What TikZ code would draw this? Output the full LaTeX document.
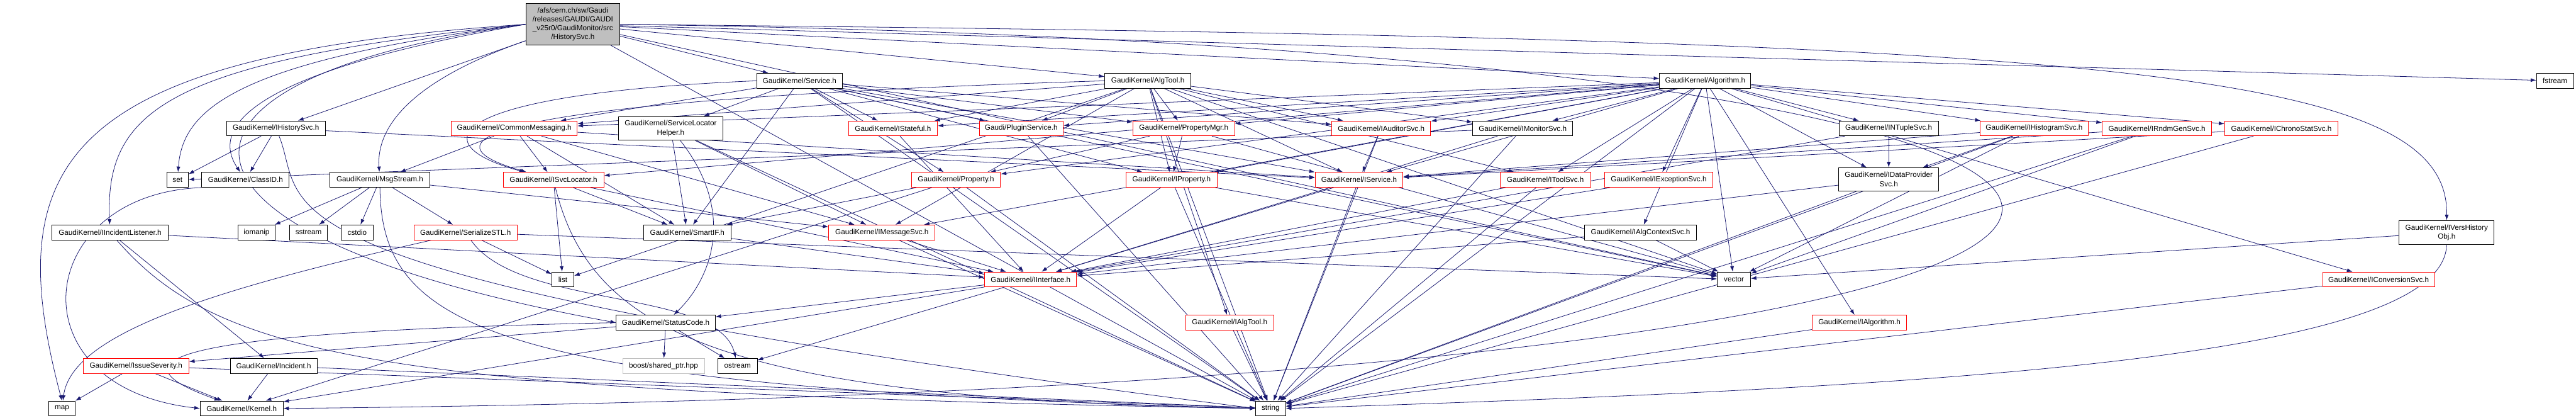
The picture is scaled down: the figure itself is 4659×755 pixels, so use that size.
\documentclass[tikz,border=0pt]{standalone}
\usepackage{fontspec}
\setmainfont{Liberation Sans}
\usetikzlibrary{arrows.meta}
\definecolor{edgeblue}{HTML}{191970}
\definecolor{boxgray}{HTML}{BFBFBF}
\pgfdeclarelayer{edges}
\pgfsetlayers{edges,main}
\tikzset{
  incl/.style={draw=black, fill=white, line width=1pt, minimum height=27pt, inner sep=0pt,
    align=center, font=\fontsize{13.3}{16}\selectfont},
  inclred/.style={incl, draw=red},
  inclext/.style={incl, draw=boxgray},
  srcfile/.style={incl, fill=boxgray},
  dep/.style={draw=edgeblue, line width=0.9pt, -{Latex[length=10pt,width=7pt]}}
}
\begin{document}
\begin{tikzpicture}[x=1pt, y=-1pt]
\useasboundingbox (0,0) rectangle (4659,755);
% top file
\node[srcfile, minimum width=170pt, minimum height=75pt] (main) at (1036,44) {/afs/cern.ch/sw/Gaudi\\/releases/GAUDI/GAUDI\\\_v25r0/GaudiMonitor/src\\/HistorySvc.h};
% rank 1
\node[incl, minimum width=155pt] (service) at (1446,146) {GaudiKernel/Service.h};
\node[incl, minimum width=156pt] (algtool) at (2076,146) {GaudiKernel/AlgTool.h};
\node[incl, minimum width=165pt] (algorithm) at (3084,146) {GaudiKernel/Algorithm.h};
\node[incl, minimum width=67pt] (fstream) at (4621,146) {fstream};
% rank 2
\node[incl, minimum width=178pt] (ihistorysvc) at (499,232) {GaudiKernel/IHistorySvc.h};
\node[inclred, minimum width=228pt] (commonmsg) at (930,232) {GaudiKernel/CommonMessaging.h};
\node[incl, minimum width=188pt, minimum height=43pt] (svclochelper) at (1213,232) {GaudiKernel/ServiceLocator\\Helper.h};
\node[inclred, minimum width=161pt] (istateful) at (1615,232) {GaudiKernel/IStateful.h};
\node[inclred, minimum width=152pt] (pluginsvc) at (1847,232) {Gaudi/PluginService.h};
\node[inclred, minimum width=184pt] (propmgr) at (2141,232) {GaudiKernel/PropertyMgr.h};
\node[inclred, minimum width=179pt] (iauditorsvc) at (2498,232) {GaudiKernel/IAuditorSvc.h};
\node[incl, minimum width=181pt] (imonitorsvc) at (2754,232) {GaudiKernel/IMonitorSvc.h};
\node[incl, minimum width=180pt] (intuplesvc) at (3416,232) {GaudiKernel/INTupleSvc.h};
\node[inclred, minimum width=196pt] (ihistogramsvc) at (3679,232) {GaudiKernel/IHistogramSvc.h};
\node[inclred, minimum width=198pt] (irndmgensvc) at (3901,232) {GaudiKernel/IRndmGenSvc.h};
\node[inclred, minimum width=205pt] (ichronostatsvc) at (4126,232) {GaudiKernel/IChronoStatSvc.h};
% rank 3
\node[incl, minimum width=39pt] (set) at (321,325) {set};
\node[incl, minimum width=158pt] (classid) at (444,325) {GaudiKernel/ClassID.h};
\node[incl, minimum width=180pt] (msgstream) at (687,325) {GaudiKernel/MsgStream.h};
\node[inclred, minimum width=182pt] (isvclocator) at (1001,325) {GaudiKernel/ISvcLocator.h};
\node[inclred, minimum width=161pt] (property) at (1729,325) {GaudiKernel/Property.h};
\node[inclred, minimum width=164pt] (iproperty) at (2119,325) {GaudiKernel/IProperty.h};
\node[inclred, minimum width=159pt] (iservice) at (2458,325) {GaudiKernel/IService.h};
\node[inclred, minimum width=164pt] (itoolsvc) at (2795,325) {GaudiKernel/IToolSvc.h};
\node[inclred, minimum width=195pt] (iexceptionsvc) at (3000,325) {GaudiKernel/IExceptionSvc.h};
\node[incl, minimum width=181pt, minimum height=42pt] (idataprovsvc) at (3416,324) {GaudiKernel/IDataProvider\\Svc.h};
\node[incl, minimum width=172pt, minimum height=43pt] (ivershistobj) at (4425,420) {GaudiKernel/IVersHistory\\Obj.h};
% rank 4
\node[incl, minimum width=210pt] (iincidentlistener) at (199,420) {GaudiKernel/IIncidentListener.h};
\node[incl, minimum width=67pt] (iomanip) at (464,420) {iomanip};
\node[incl, minimum width=69pt] (sstream) at (558,420) {sstream};
\node[incl, minimum width=57pt] (cstdio) at (646,420) {cstdio};
\node[inclred, minimum width=187pt] (serializestl) at (842,420) {GaudiKernel/SerializeSTL.h};
\node[incl, minimum width=158pt] (smartif) at (1243,420) {GaudiKernel/SmartIF.h};
\node[inclred, minimum width=192pt] (imessagesvc) at (1595,420) {GaudiKernel/IMessageSvc.h};
\node[incl, minimum width=203pt] (ialgcontextsvc) at (2967,420) {GaudiKernel/IAlgContextSvc.h};
% rank 5
\node[incl, minimum width=40pt] (list) at (1018,505) {list};
\node[inclred, minimum width=166pt] (iinterface) at (1864,505) {GaudiKernel/IInterface.h};
\node[incl, minimum width=60pt] (vector) at (3136,505) {vector};
\node[inclred, minimum width=203pt] (iconversionsvc) at (4302,505) {GaudiKernel/IConversionSvc.h};
% rank 6
\node[incl, minimum width=179pt] (statuscode) at (1204,583) {GaudiKernel/StatusCode.h};
\node[inclred, minimum width=159pt] (ialgtool) at (2224,583) {GaudiKernel/IAlgTool.h};
\node[inclred, minimum width=171pt] (ialgorithm) at (3363,583) {GaudiKernel/IAlgorithm.h};
% rank 7
\node[inclred, minimum width=191pt] (issueseverity) at (246,661) {GaudiKernel/IssueSeverity.h};
\node[incl, minimum width=157pt] (incident) at (495,661) {GaudiKernel/Incident.h};
\node[inclext, minimum width=148pt] (boostptr) at (1200,661) {boost/shared\_ptr.hpp};
\node[incl, minimum width=71pt] (ostream) at (1334,661) {ostream};
% rank 8
\node[incl, minimum width=48pt] (map) at (112,738) {map};
\node[incl, minimum width=150pt] (kernel) at (437,738) {GaudiKernel/Kernel.h};
\node[incl, minimum width=54pt] (string) at (2298,738) {string};
\begin{pgfonlayer}{edges}
% includes of the top file
\draw[dep] (main) -- (ihistorysvc);
\draw[dep] (main) -- (service);
\draw[dep] (main) -- (algtool);
\draw[dep] (main) -- (algorithm);
\draw[dep] (main) -- (fstream);
\draw[dep] (main.west) .. controls (420,110) and (330,200) .. (set);
\draw[dep] (main.west) .. controls (450,130) and (380,230) .. (classid);
\draw[dep] (main) .. controls (760,140) and (680,220) .. (msgstream);
\draw[dep] (main.west) .. controls (300,110) and (190,200) .. (iincidentlistener);
\draw[dep] (main.west) .. controls (100,100) and (0,300) .. (map.north);
\draw[dep] (main.west) .. controls (250,140) and (220,420) .. (statuscode.west);
\draw[dep] (main) -- (string);
\draw[dep] (main.east) .. controls (3800,70) and (4430,120) .. (ivershistobj.north);
\draw[dep] (main) -- (vector);
\draw[dep] (main.east) .. controls (4500,90) and (4600,700) .. (kernel.east);
% Service.h
\draw[dep] (service) -- (commonmsg);
\draw[dep] (service) -- (svclochelper);
\draw[dep] (service) -- (istateful);
\draw[dep] (service) -- (pluginsvc);
\draw[dep] (service) -- (propmgr);
\draw[dep] (service) -- (property);
\draw[dep] (service) -- (iproperty);
\draw[dep] (service) -- (iservice);
\draw[dep] (service.west) .. controls (800,170) and (760,260) .. (isvclocator);
\draw[dep] (service) -- (iauditorsvc);
\draw[dep] (service) -- (smartif);
\draw[dep] (service) -- (string);
\draw[dep] (service) -- (vector);
% AlgTool.h
\draw[dep] (algtool) -- (ialgtool);
\draw[dep] (algtool) -- (iproperty);
\draw[dep] (algtool) -- (propmgr);
\draw[dep] (algtool) -- (pluginsvc);
\draw[dep] (algtool) -- (istateful);
\draw[dep] (algtool) -- (iservice);
\draw[dep] (algtool) -- (itoolsvc);
\draw[dep] (algtool) -- (imonitorsvc);
\draw[dep] (algtool) -- (iauditorsvc);
\draw[dep] (algtool.west) .. controls (900,180) and (740,250) .. (isvclocator);
\draw[dep] (algtool) -- (imessagesvc);
\draw[dep] (algtool) -- (commonmsg);
\draw[dep] (algtool) -- (list);
\draw[dep] (algtool) -- (string);
\draw[dep] (algtool) -- (vector);
% Algorithm.h
\draw[dep] (algorithm) -- (iproperty);
\draw[dep] (algorithm) -- (ialgorithm);
\draw[dep] (algorithm) -- (iservice);
\draw[dep] (algorithm) -- (propmgr);
\draw[dep] (algorithm) -- (isvclocator);
\draw[dep] (algorithm) -- (imessagesvc);
\draw[dep] (algorithm) -- (istateful);
\draw[dep] (algorithm) -- (itoolsvc);
\draw[dep] (algorithm) -- (imonitorsvc);
\draw[dep] (algorithm) -- (iauditorsvc);
\draw[dep] (algorithm) -- (idataprovsvc);
\draw[dep] (algorithm) -- (ihistogramsvc);
\draw[dep] (algorithm) -- (iconversionsvc);
\draw[dep] (algorithm) -- (intuplesvc);
\draw[dep] (algorithm) -- (ichronostatsvc);
\draw[dep] (algorithm) -- (irndmgensvc);
\draw[dep] (algorithm) -- (iexceptionsvc);
\draw[dep] (algorithm) -- (ialgcontextsvc);
\draw[dep] (algorithm) -- (property);
\draw[dep] (algorithm) -- (commonmsg);
\draw[dep] (algorithm) -- (pluginsvc);
\draw[dep] (algorithm) -- (string);
\draw[dep] (algorithm) -- (vector);
% second level
\draw[dep] (ihistorysvc) -- (set);
\draw[dep] (ihistorysvc) -- (classid);
\draw[dep] (ihistorysvc) .. controls (560,380) and (390,500) .. (string.west);
\draw[dep] (ihistorysvc) -- (iservice);
\draw[dep] (commonmsg) -- (msgstream);
\draw[dep] (commonmsg) -- (isvclocator);
\draw[dep] (commonmsg) -- (imessagesvc);
\draw[dep] (commonmsg) -- (smartif);
\draw[dep] (commonmsg) -- (iservice);
\draw[dep] (svclochelper) -- (smartif);
\draw[dep] (svclochelper) .. controls (1330,380) and (1290,500) .. (statuscode);
\draw[dep] (svclochelper) -- (imessagesvc);
\draw[dep] (svclochelper) -- (string);
\draw[dep] (istateful) -- (iinterface);
\draw[dep] (pluginsvc) -- (string);
\draw[dep] (propmgr) -- (property);
\draw[dep] (propmgr) -- (iproperty);
\draw[dep] (propmgr) -- (vector);
\draw[dep] (iauditorsvc) -- (iservice);
\draw[dep] (iauditorsvc) -- (string);
\draw[dep] (imonitorsvc) -- (iinterface);
\draw[dep] (imonitorsvc) -- (set);
\draw[dep] (imonitorsvc) -- (string);
\draw[dep] (intuplesvc) -- (idataprovsvc);
\draw[dep] (intuplesvc) -- (iinterface);
\draw[dep] (ihistogramsvc) -- (idataprovsvc);
\draw[dep] (ihistogramsvc) -- (iservice);
\draw[dep] (ihistogramsvc) -- (vector);
\draw[dep] (ihistogramsvc) -- (string);
\draw[dep] (irndmgensvc) -- (iservice);
\draw[dep] (irndmgensvc) -- (vector);
\draw[dep] (irndmgensvc) -- (string);
\draw[dep] (ichronostatsvc) -- (iservice);
\draw[dep] (ichronostatsvc) -- (string);
% third level
\draw[dep] (classid.south west) .. controls (60,350) and (20,700) .. (kernel.west);
\draw[dep] (msgstream) -- (imessagesvc);
\draw[dep] (msgstream) -- (serializestl);
\draw[dep] (msgstream) -- (iomanip);
\draw[dep] (msgstream) -- (sstream);
\draw[dep] (msgstream) -- (cstdio);
\draw[dep] (msgstream) .. controls (690,600) and (900,700) .. (string.west);
\draw[dep] (isvclocator) -- (iinterface);
\draw[dep] (isvclocator) -- (smartif);
\draw[dep] (isvclocator) -- (list);
\draw[dep] (isvclocator) .. controls (1070,600) and (1300,720) .. (string.west);
\draw[dep] (property) -- (smartif);
\draw[dep] (property) -- (kernel);
\draw[dep] (property) -- (string);
\draw[dep] (iproperty) -- (iinterface);
\draw[dep] (iproperty) -- (string);
\draw[dep] (iproperty) -- (vector);
\draw[dep] (iservice) -- (iinterface);
\draw[dep] (iservice) -- (string);
\draw[dep] (itoolsvc) -- (iinterface);
\draw[dep] (itoolsvc) -- (string);
\draw[dep] (iexceptionsvc) -- (iinterface);
\draw[dep] (idataprovsvc) -- (iinterface);
\draw[dep] (idataprovsvc) -- (string);
\draw[dep] (ivershistobj) -- (vector);
\draw[dep] (ivershistobj.south) .. controls (4420,650) and (3500,700) .. (string.east);
% lower levels
\draw[dep] (iincidentlistener) -- (iinterface);
\draw[dep] (iincidentlistener) -- (incident);
\draw[dep] (iincidentlistener) .. controls (400,650) and (700,710) .. (string.west);
\draw[dep] (serializestl) .. controls (400,520) and (130,600) .. (map);
\draw[dep] (serializestl) -- (list);
\draw[dep] (serializestl) .. controls (940,560) and (1300,520) .. (ostream);
\draw[dep] (serializestl) -- (vector);
\draw[dep] (smartif) -- (iinterface);
\draw[dep] (imessagesvc) -- (iinterface);
\draw[dep] (imessagesvc) -- (string);
\draw[dep] (ialgcontextsvc) -- (iinterface);
\draw[dep] (ialgcontextsvc) -- (vector);
\draw[dep] (iinterface) -- (statuscode);
\draw[dep] (iinterface) -- (ostream);
\draw[dep] (iinterface) -- (kernel);
\draw[dep] (iconversionsvc) -- (string);
\draw[dep] (statuscode) -- (boostptr);
\draw[dep] (statuscode) -- (ostream);
\draw[dep] (statuscode.west) .. controls (300,600) and (190,650) .. (kernel);
\draw[dep] (statuscode) -- (issueseverity);
\draw[dep] (ialgtool) -- (string);
\draw[dep] (ialgorithm) -- (string);
\draw[dep] (issueseverity) -- (map);
\draw[dep] (issueseverity) -- (kernel);
\draw[dep] (issueseverity) -- (string);
\draw[dep] (incident) -- (kernel);
\draw[dep] (incident) -- (string);
\end{pgfonlayer}
\end{tikzpicture}
\end{document}
